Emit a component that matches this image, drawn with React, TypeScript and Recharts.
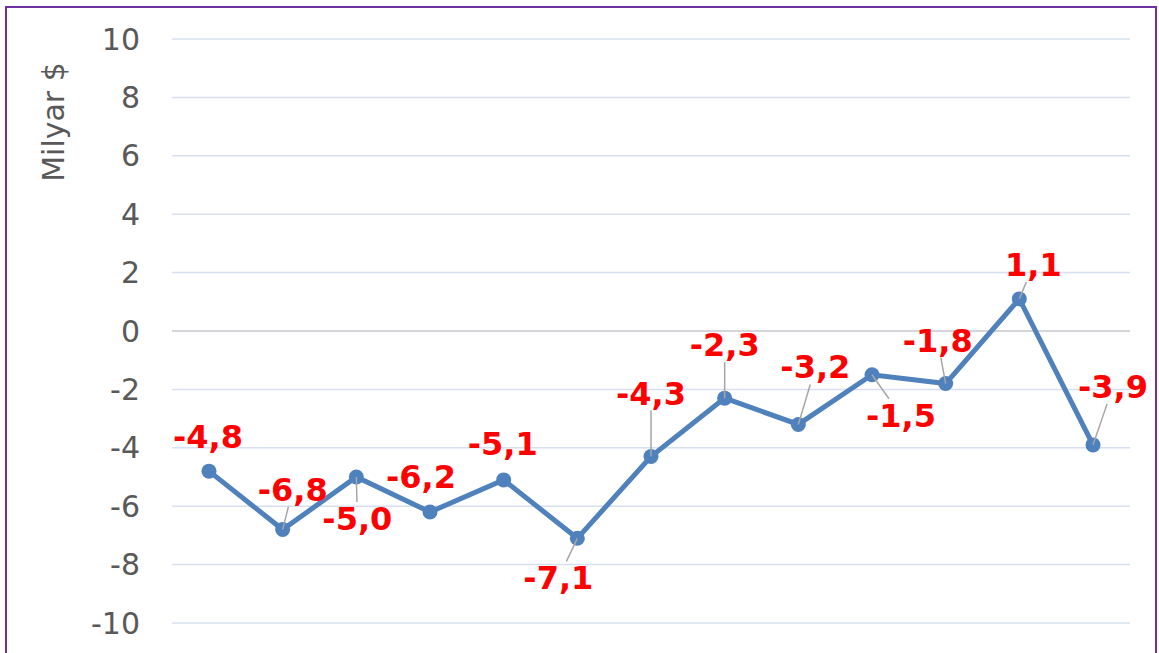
import { CartesianGrid, LabelList, Line, LineChart, ReferenceLine, XAxis, YAxis } from 'recharts'

const MONTHS = ['1', '2', '3', '4', '5', '6', '7', '8', '9', '10', '11', '12', '13']
const BALANCE = [-4.8, -6.8, -5.0, -6.2, -5.1, -7.1, -4.3, -2.3, -3.2, -1.5, -1.8, 1.1, -3.9]
const Y_TICKS = [-10, -8, -6, -4, -2, 0, 2, 4, 6, 8, 10]

// label placement relative to the point: [dx, dy, leader]
const LABEL_OFFSETS: Array<[number, number, boolean]> = [
  [-1, -34, false],
  [10, -40, true],
  [1, 42, true],
  [-9, -35, false],
  [-1, -36, false],
  [-19, 40, true],
  [0, -63, true],
  [0, -53, true],
  [17, -57, true],
  [29, 41, true],
  [-8, -43, true],
  [14, -34, true],
  [20, -58, true],
]

const data = MONTHS.map((m, i) => ({ m, v: BALANCE[i] }))

const fmt = (v: number) => v.toFixed(1).replace('.', ',')

function PointLabel(props: any) {
  const { x, y, index, value } = props
  const [dx, dy, leader] = LABEL_OFFSETS[index]
  const cx = x + dx
  const cy = y + dy
  let line = null
  if (leader) {
    const hw = 40
    const hh = 17
    const t = Math.min(hw / Math.max(Math.abs(dx), 0.01), hh / Math.max(Math.abs(dy), 0.01))
    const ex = cx - dx * t
    const ey = cy - dy * t
    line = <line x1={x} y1={y} x2={ex} y2={ey} stroke="#a6a6a6" strokeWidth={1.5} />
  }
  return (
    <g>
      {line}
      <text
        x={cx}
        y={cy}
        textAnchor="middle"
        dominantBaseline="central"
        fill="#ff0000"
        fontFamily="DejaVu Sans, Verdana, sans-serif"
        fontWeight="bold"
        fontSize={32}
      >
        {fmt(Number(value))}
      </text>
    </g>
  )
}

export default function App() {
  const tick = { fill: '#595959', fontSize: 30, fontFamily: 'DejaVu Sans, Verdana, sans-serif' }
  return (
    <div style={{ position: 'absolute', left: 0, top: 0, width: 1159, height: 653, overflow: 'hidden', background: '#fff' }}>
      <div
        style={{
          position: 'absolute',
          left: 5,
          top: 6,
          width: 1148,
          height: 700,
          border: '2px solid #7030a0',
        }}
      />
      <div style={{ position: 'absolute', left: 0, top: 0 }}>
        <LineChart width={1159} height={653} data={data} margin={{ top: 39, right: 29, bottom: 30, left: 0 }}>
          <CartesianGrid vertical={false} stroke="#d6e0f0" strokeWidth={1.5} />
          <ReferenceLine y={0} stroke="#d0d0d0" strokeWidth={1.5} />
          <XAxis dataKey="m" hide padding={{ left: 37, right: 37 }} />
          <YAxis
            width={172}
            domain={[-10, 10]}
            ticks={Y_TICKS}
            axisLine={false}
            tickLine={false}
            tickSize={0}
            tickMargin={32}
            tick={tick}
            label={{
              content: () => (
                <text
                  x={53}
                  y={122}
                  transform="rotate(-90 53 122)"
                  textAnchor="middle"
                  dominantBaseline="central"
                  fill="#595959"
                  fontSize={30}
                  fontFamily="DejaVu Sans, Verdana, sans-serif"
                >
                  Milyar $
                </text>
              ),
            }}
          />
          <Line
            type="linear"
            dataKey="v"
            stroke="#4f81bd"
            strokeWidth={5}
            dot={{ r: 7.5, fill: '#4f81bd', stroke: '#4f81bd', strokeWidth: 0 }}
            isAnimationActive={false}
          >
            <LabelList dataKey="v" content={<PointLabel />} />
          </Line>
        </LineChart>
      </div>
    </div>
  )
}
